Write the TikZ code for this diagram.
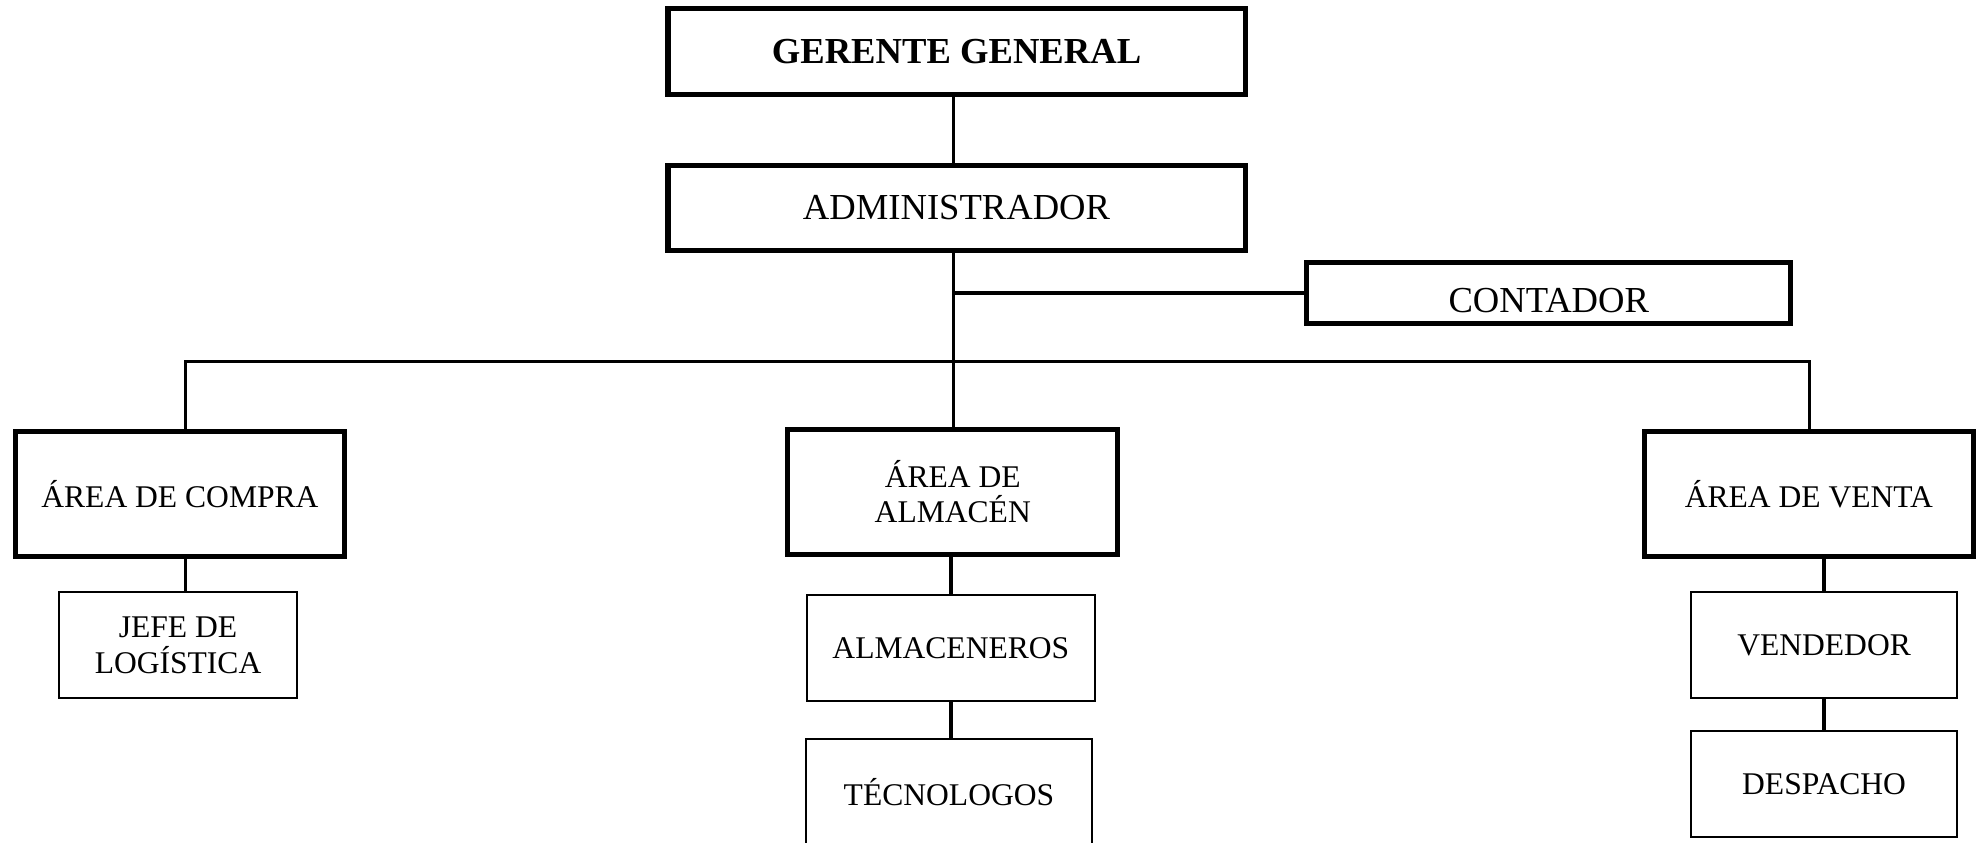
\documentclass[tikz,border=0pt]{standalone}
\usepackage{fontspec}
\setmainfont{Liberation Serif}
\begin{document}
\begin{tikzpicture}[x=1pt,y=1pt,
  bigbox/.style={draw, line width=4pt, inner sep=0pt, align=center,
    font=\fontsize{29}{33}\selectfont},
  areabox/.style={draw, line width=4pt, inner sep=0pt, align=center,
    font=\fontsize{25}{28}\selectfont},
  smallbox/.style={draw, line width=1.8pt, inner sep=0pt, align=center,
    font=\fontsize{25}{29}\selectfont},
  link/.style={line width=2.6pt, line join=miter},
  sublink/.style={line width=3.2pt}]
\useasboundingbox (0,0) rectangle (1568,-667);

% top of the chart
\node[bigbox, minimum width=457pt, minimum height=68pt] (gg) at (757.5,-41) {\textbf{GERENTE GENERAL}};
\node[bigbox, minimum width=457pt, minimum height=67pt] (adm) at (757.5,-164.5) {ADMINISTRADOR};
\node[bigbox, minimum width=383pt, minimum height=48pt] (cont) at (1226.5,-232) {\raisebox{-6pt}[\height][\depth]{CONTADOR}};

% areas
\node[areabox, minimum width=261pt, minimum height=99pt] (compra) at (142.5,-391.5) {ÁREA DE COMPRA};
\node[areabox, minimum width=261pt, minimum height=99pt] (almacen) at (754.5,-389.5) {ÁREA DE\\ALMACÉN};
\node[areabox, minimum width=261pt, minimum height=99pt] (venta) at (1432.5,-391.5) {ÁREA DE VENTA};

% staff
\node[smallbox, minimum width=188pt, minimum height=84pt] (jefe) at (141,-511) {JEFE DE\\LOGÍSTICA};
\node[smallbox, minimum width=228pt, minimum height=84pt] (almaceneros) at (753,-513) {ALMACENEROS};
\node[smallbox, minimum width=227pt, minimum height=84pt] (tecno) at (751.5,-627) {TÉCNOLOGOS};
\node[smallbox, minimum width=211pt, minimum height=84pt] (vend) at (1444.5,-511) {VENDEDOR};
\node[smallbox, minimum width=211pt, minimum height=84pt] (desp) at (1444.5,-621) {DESPACHO};

% junction points of the trunk and the bus
\coordinate (trunk) at (755,-286);
\coordinate (cj) at (755,-232);
\coordinate (busL) at (147,-286);
\coordinate (busR) at (1433,-286);

\draw[link] (gg.south -| trunk) -- (adm.north -| trunk);
\draw[link] (adm.south -| trunk) -- (almacen.north -| trunk);
\draw[link] (cj) -- (cont.west);
\draw[link] (compra.north -| busL) -- (busL) -- (busR) -- (venta.north -| busR);

\draw[link] (compra.south -| busL) -- (jefe.north -| busL);
\draw[sublink] (almaceneros.north |- almacen.south) -- (almaceneros.north);
\draw[sublink] (almaceneros.south) -- (tecno.north -| almaceneros.south);
\draw[link] (vend.north |- venta.south) -- (vend.north);
\draw[link] (vend.south) -- (desp.north);
\end{tikzpicture}
\end{document}
